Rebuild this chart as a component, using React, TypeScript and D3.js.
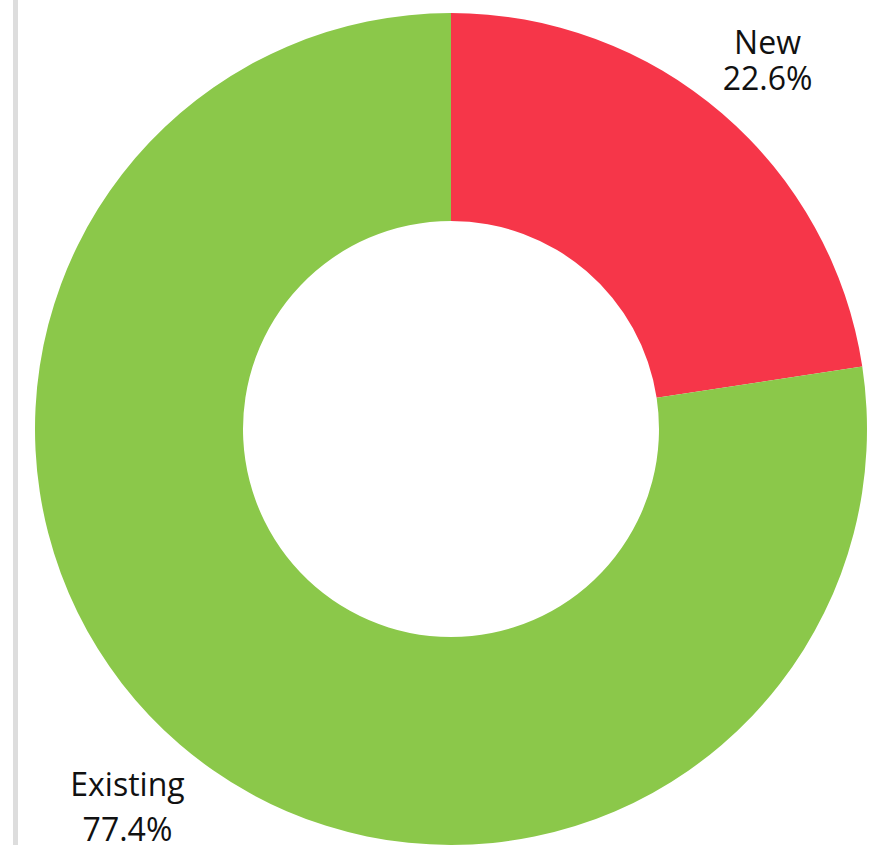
import React from "react";
import * as d3 from "d3";

const categories = ["New", "Existing"];
const values = [22.6, 77.4];
const colors = ["#F63649", "#8BC84A"];

const W = 873;
const H = 845;
const cx = 451;
const cy = 429;
const outerR = 416;
const innerR = 208;
const labelR = 491;

export default function App() {
  const pie = d3.pie<number>().sort(null).value((d) => d)(values);
  const arc = d3.arc<d3.PieArcDatum<number>>().innerRadius(innerR).outerRadius(outerR);
  const labelArc = d3.arc<d3.PieArcDatum<number>>().innerRadius(labelR).outerRadius(labelR);
  const lineOffsets = [
    [-3, 33],
    [-5, 40],
  ];
  return (
    <svg
      width={W}
      height={H}
      style={{ position: "absolute", left: 0, top: 0, display: "block", background: "#fff" }}
      fontFamily="'Open Sans', sans-serif"
    >
      <rect x={13} y={0} width={5} height={H} fill="#dddddd" />
      <g transform={`translate(${cx},${cy})`}>
        {pie.map((p, i) => (
          <path key={categories[i]} d={arc(p) || ""} fill={colors[i]} />
        ))}
        {pie.map((p, i) => {
          const [cxl, ly] = labelArc.centroid(p);
          const lx = cxl - 3.5;
          return (
            <text key={"l" + i} x={lx} textAnchor="middle" fontSize={32} fill="#111">
              <tspan x={lx} y={ly + lineOffsets[i][0]}>{categories[i]}</tspan>
              <tspan x={lx} y={ly + lineOffsets[i][1]}>{values[i].toFixed(1)}%</tspan>
            </text>
          );
        })}
      </g>
    </svg>
  );
}
